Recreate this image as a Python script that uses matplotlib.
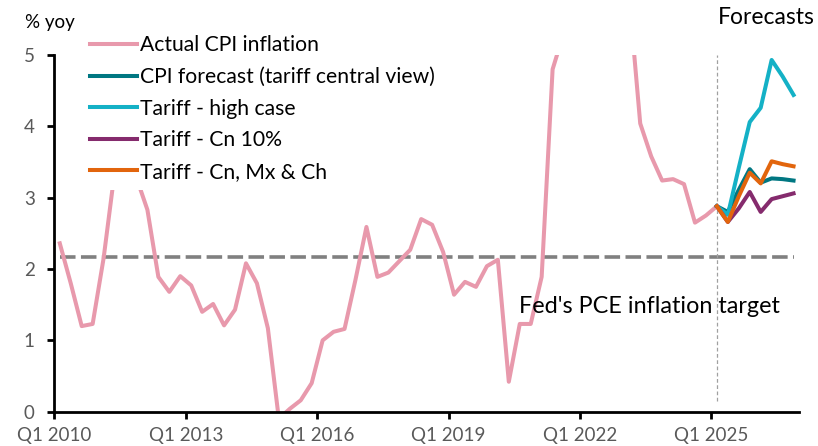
import numpy as np
import matplotlib
matplotlib.use('Agg')
import matplotlib.pyplot as plt

plt.rcParams['font.family'] = ['Lato', 'DejaVu Sans']

# quarterly CPI, Q1 2010 .. Q1 2025 (% yoy)
actual_cpi = [2.36, 1.80, 1.20, 1.23, 2.15, 3.35, 3.80, 3.28, 2.83, 1.89,
              1.68, 1.90, 1.77, 1.40, 1.51, 1.21, 1.43, 2.08, 1.80, 1.17,
              -0.10, 0.04, 0.16, 0.40, 1.00, 1.12, 1.16, 1.85, 2.59, 1.89,
              1.95, 2.11, 2.27, 2.70, 2.62, 2.24, 1.64, 1.82, 1.75, 2.04,
              2.13, 0.42, 1.23, 1.23, 1.89, 4.80, 5.30, 6.70, 8.00, 8.60,
              8.30, 7.10, 5.80, 4.04, 3.58, 3.24, 3.26, 3.19, 2.65, 2.75,
              2.88]
# forecasts, Q1 2025 .. Q4 2026
cpi_central = [2.88, 2.80, 3.11, 3.40, 3.21, 3.27, 3.26, 3.24]
tariff_high = [2.88, 2.76, 3.42, 4.06, 4.26, 4.93, 4.70, 4.44]
tariff_cn10 = [2.88, 2.66, 2.85, 3.08, 2.80, 2.98, 3.02, 3.06]
tariff_cnmxch = [2.88, 2.66, 3.02, 3.35, 3.20, 3.51, 3.47, 3.44]
fed_target = 2.17

n_quarters = 68
tick_pos = [0, 12, 24, 36, 48, 60]
tick_labels = ['Q1 2010', 'Q1 2013', 'Q1 2016', 'Q1 2019', 'Q1 2022', 'Q1 2025']

x_act = np.arange(len(actual_cpi)) + 0.5
x_fc = np.arange(len(actual_cpi) - 1, n_quarters) + 0.5

fig = plt.figure(figsize=(8.18, 4.46), dpi=100)
ax = fig.add_axes([0.0664, 0.0769, 0.9104, 0.7998])

ax.plot([0.5, n_quarters - 0.5], [fed_target, fed_target], color='#808080',
        lw=2.6, dashes=(4.3, 1.5), zorder=1)
ax.plot([x_fc[0], x_fc[0]], [0.15, 5], color='#a0a0a0', lw=0.9,
        dashes=(3, 2), zorder=1)

lw = 2.9
ax.plot(x_act, actual_cpi, color='#e899ac', lw=lw, label='Actual CPI inflation', zorder=2)
ax.plot(x_fc, cpi_central, color='#007782', lw=lw, label='CPI forecast (tariff central view)', zorder=3)
ax.plot(x_fc, tariff_high, color='#14b1c6', lw=lw, label='Tariff - high case', zorder=3)
ax.plot(x_fc, tariff_cn10, color='#852b6d', lw=lw, label='Tariff - Cn 10%', zorder=3)
ax.plot(x_fc, tariff_cnmxch, color='#e2650d', lw=lw, label='Tariff - Cn, Mx & Ch', zorder=3)

ax.set_xlim(0, n_quarters)
ax.set_ylim(0, 5)
ax.set_xticks(tick_pos)
ax.set_xticklabels(tick_labels)
ax.set_yticks(range(6))
ax.tick_params(axis='both', colors='black', width=2, length=5,
               labelcolor='#595959', labelsize=13.5)
ax.tick_params(axis='x', pad=6)
ax.tick_params(axis='y', pad=9)
for s in ['top', 'right']:
    ax.spines[s].set_visible(False)
for s in ['left', 'bottom']:
    ax.spines[s].set_linewidth(2)

ax.text(-0.04, 1.09, '% yoy', transform=ax.transAxes, fontsize=13.5,
        color='black', ha='left', va='center', clip_on=False, zorder=1)
fig.text(815 / 818, 1 - 17 / 446, 'Forecasts', fontsize=16.5, ha='right', va='center')
ax.text(42.4, 1.48, "Fed's PCE inflation target", fontsize=16.8, ha='left', va='center')

leg = ax.legend(loc='upper left', bbox_to_anchor=(0.0366, 1.0785), fontsize=15.2,
                frameon=True, facecolor='white', edgecolor='none', framealpha=1,
                fancybox=False, handlelength=2.23, handletextpad=0.15,
                labelspacing=0.55, borderpad=0.4, borderaxespad=0)
leg.set_zorder(5)

fig.savefig('out.png', dpi=100)
